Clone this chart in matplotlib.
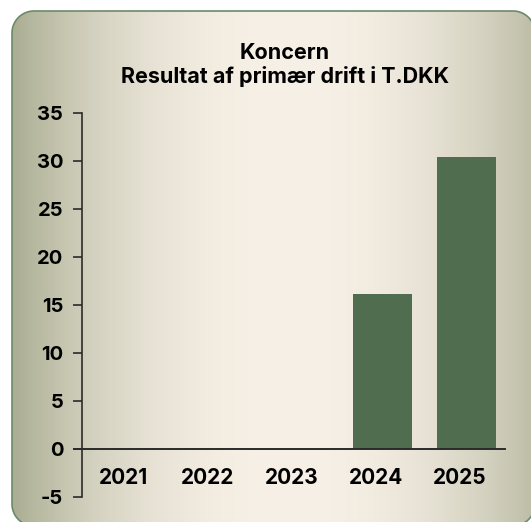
import numpy as np
import matplotlib.pyplot as plt
from matplotlib.patches import Polygon
from matplotlib.transforms import ScaledTranslation

# ------------ DATA ------------

years = ["2021", "2022", "2023", "2024", "2025"]
result_tdkk = [0, 0, 0, 16.1, 30.4]

y_ticks = [-5, 0, 5, 10, 15, 20, 25, 30, 35]

TITLE = "Koncern\nResultat af primær drift i T.DKK"

# ------------ STYLE ------------

FONT = ["Inter", "Roboto", "DejaVu Sans"]
BAR_COLOR = "#506e4f"
EDGE_COLOR = np.array([170, 173, 146]) / 255
CREAM_COLOR = np.array([247, 240, 230]) / 255
BORDER_COLOR = "#6b8a6b"
AXIS_COLOR = "#2a2a2a"

plt.rcParams["font.family"] = FONT
plt.rcParams["font.weight"] = "bold"


def rounded_rect(x0, y0, x1, y1, r, n=24):
    """Outline of a rectangle with rounded corners, as a point list"""
    pts = []
    corners = [(x1 - r, y1 - r, 0), (x0 + r, y1 - r, 90),
               (x0 + r, y0 + r, 180), (x1 - r, y0 + r, 270)]
    for cx, cy, start in corners:
        ang = np.radians(np.linspace(start, start + 90, n))
        pts += list(zip(cx + r * np.cos(ang), cy + r * np.sin(ang)))
    return np.array(pts)


W, H = 531, 522
fig = plt.figure(figsize=(W / 100, H / 100), dpi=100)
fig.patch.set_facecolor("white")

# background panel: rounded box filled with a horizontal gradient
# (axes in pixel units, y measured from the bottom)
bg = fig.add_axes([0, 0, 1, 1])
bg.axis("off")

PX0, PX1 = 12, 535
PY0, PY1 = H - 526, H - 11
panel = Polygon(rounded_rect(PX0, PY0, PX1, PY1, 22), closed=True,
                facecolor="none", edgecolor=BORDER_COLOR, linewidth=1.2,
                zorder=3)
bg.add_patch(panel)

xs = np.linspace(PX0, PX1, 600)
t = np.abs(xs - 290) / (290 - PX0)
t = np.clip(t, 0, 1) ** 2.2
grad = CREAM_COLOR[None, :] + (EDGE_COLOR - CREAM_COLOR)[None, :] * t[:, None]
img = bg.imshow(grad[None, :, :], extent=(PX0, PX1, PY0, PY1), aspect="auto",
                origin="lower", zorder=1, interpolation="bilinear")
img.set_clip_path(panel)
bg.set_xlim(0, W)
bg.set_ylim(0, H)

# bar chart
ax = fig.add_axes([82 / W, 25 / H, (505 - 82) / W, (409 - 25) / H])
ax.patch.set_alpha(0)

x = np.arange(len(years))
ax.bar(x, result_tdkk, width=0.7, color=BAR_COLOR, zorder=2)

ax.set_xlim(-0.577, len(years) - 1 + 0.458)
ax.set_ylim(-5, 35)
ax.set_yticks(y_ticks)
ax.set_yticklabels([str(v) for v in y_ticks], fontsize=14.5, fontweight="bold")
ax.tick_params(axis="y", length=6.5, width=1.2, pad=7, color=AXIS_COLOR)

ax.set_xticks([])
for s in ["top", "right", "bottom"]:
    ax.spines[s].set_visible(False)
ax.spines["left"].set_color(AXIS_COLOR)
ax.spines["left"].set_linewidth(1.2)

# zero line, running through the 0 tick
ax.axhline(0, xmin=-0.02, color=AXIS_COLOR, linewidth=1.4, clip_on=False, zorder=3)

# year labels sit between 0 and -5
shift = ScaledTranslation(-7 / 100, 0, fig.dpi_scale_trans)
for xi, label in zip(x, years):
    ax.text(xi, -3.0, label, ha="center", va="center", fontsize=15,
            fontweight="bold", transform=ax.transData + shift)

fig.text(285 / W, 1 - 65 / H, TITLE, ha="center", va="center", fontsize=15.5,
         fontweight="bold", linespacing=1.15)

fig.savefig("out.png", dpi=100)
